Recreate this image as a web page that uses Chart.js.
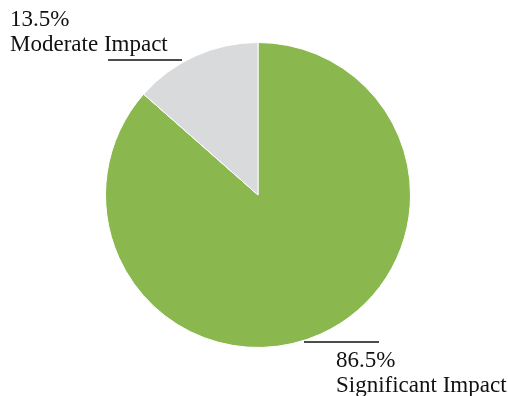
<!DOCTYPE html>
<html>
<head>
<meta charset="utf-8">
<script src="https://cdn.jsdelivr.net/npm/chart.js@4"></script>
<style>
  html, body { margin: 0; padding: 0; background: #fff; }
  #wrap { width: 508px; height: 396px; position: relative; }
</style>
</head>
<body>
<div id="wrap"><canvas id="pie"></canvas></div>
<script>
const categories = ['Significant Impact', 'Moderate Impact'];
const shares = [86.5, 13.5];
const sliceColors = ['#8bb84e', '#d9dadc'];

// callouts: text block position + leader line, relative to the pie centre
const callouts = [
  { lineX: [46, 121], lineY: 147, textX: 78, textY: 172 },
  { lineX: [-150, -76], lineY: -135, textX: -248, textY: -169 }
];

const calloutPlugin = {
  id: 'callouts',
  afterDatasetsDraw(chart) {
    const ctx = chart.ctx;
    const arcs = chart.getDatasetMeta(0).data;
    if (!arcs.length) return;
    const cx = arcs[0].x, cy = arcs[0].y;
    ctx.save();
    ctx.strokeStyle = '#111';
    ctx.lineWidth = 1.5;
    ctx.fillStyle = '#111';
    ctx.font = '23px "Liberation Serif"';
    ctx.textBaseline = 'alphabetic';
    callouts.forEach((c, i) => {
      ctx.beginPath();
      ctx.moveTo(cx + c.lineX[0], cy + c.lineY);
      ctx.lineTo(cx + c.lineX[1], cy + c.lineY);
      ctx.stroke();
      ctx.fillText(shares[i].toFixed(1) + '%', cx + c.textX, cy + c.textY);
      ctx.fillText(categories[i], cx + c.textX, cy + c.textY + 25);
    });
    ctx.restore();
  }
};

new Chart(document.getElementById('pie'), {
  type: 'pie',
  data: {
    labels: categories,
    datasets: [{
      data: shares,
      backgroundColor: sliceColors,
      borderColor: '#ffffff',
      borderWidth: 1
    }]
  },
  options: {
    responsive: true,
    maintainAspectRatio: false,
    animation: false,
    layout: { padding: { top: 42, bottom: 48, left: 105, right: 97 } },
    plugins: {
      legend: { display: false },
      tooltip: { enabled: false }
    }
  },
  plugins: [calloutPlugin]
});
</script>
</body>
</html>
